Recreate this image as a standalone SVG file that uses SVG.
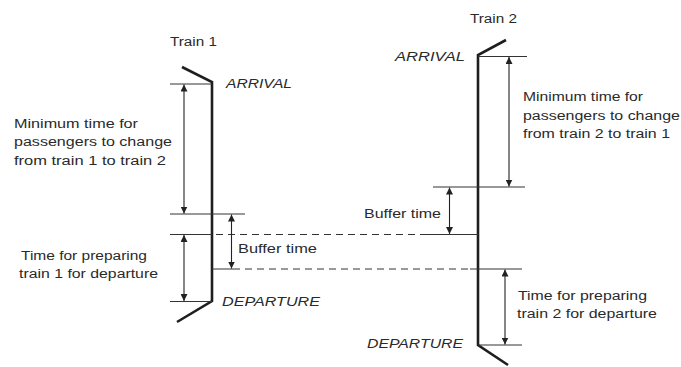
<svg xmlns="http://www.w3.org/2000/svg" width="681" height="367" viewBox="0 0 681 367">
<defs>
<marker id="ah" viewBox="0 0 10 10" refX="10" refY="5" markerWidth="7" markerHeight="7" markerUnits="userSpaceOnUse" orient="auto-start-reverse">
<path d="M0,0 L10,5 L0,10 Z" fill="#222"/>
</marker>
<style>
.t{font-family:"Liberation Sans",Arial,sans-serif;font-size:12.5px;fill:#2a2a2a}
.i{font-style:italic}
.train{fill:none;stroke:#1e1e1e;stroke-width:2.6;stroke-linejoin:miter}
.tick{stroke:#333;stroke-width:1;fill:none}
.dash{stroke:#333;stroke-width:1;stroke-dasharray:7 5;fill:none}
.arr{stroke:#222;stroke-width:1.1;fill:none;marker-start:url(#ah);marker-end:url(#ah)}
</style>
</defs>
<rect width="681" height="367" fill="#fff"/>
<g id="train1">
<polyline class="train" points="182,67 212,82 212,301 177,322"/>
<text class="t" x="170" y="45.5" textLength="47" lengthAdjust="spacingAndGlyphs">Train 1</text>
<text class="t i" x="226" y="87.7" textLength="66" lengthAdjust="spacingAndGlyphs">ARRIVAL</text>
<text class="t i" x="222" y="305.5" textLength="98" lengthAdjust="spacingAndGlyphs">DEPARTURE</text>
</g>
<g id="train2">
<polyline class="train" points="506,40 478,55 478,345 508,365"/>
<text class="t" x="470" y="22.5" textLength="47" lengthAdjust="spacingAndGlyphs">Train 2</text>
<text class="t i" x="395" y="61" textLength="70" lengthAdjust="spacingAndGlyphs">ARRIVAL</text>
<text class="t i" x="367" y="348" textLength="96" lengthAdjust="spacingAndGlyphs">DEPARTURE</text>
</g>
<g id="connectors">
<line class="tick" x1="170" y1="84" x2="212" y2="84"/>
<line class="tick" x1="170" y1="214" x2="245" y2="214"/>
<line class="tick" x1="170" y1="234.5" x2="212" y2="234.5"/>
<line class="dash" x1="216" y1="234.5" x2="420" y2="234.5"/>
<line class="tick" x1="420" y1="234.5" x2="478" y2="234.5"/>
<line class="tick" x1="170" y1="301.5" x2="212" y2="301.5"/>
<line class="tick" x1="212" y1="269" x2="240" y2="269"/>
<line class="dash" x1="245" y1="269" x2="470" y2="269"/>
<line class="tick" x1="470" y1="269" x2="522" y2="269"/>
<line class="tick" x1="478" y1="56.5" x2="527" y2="56.5"/>
<line class="tick" x1="433" y1="187" x2="525" y2="187"/>
<line class="tick" x1="478" y1="345" x2="522" y2="345"/>
<line class="arr" x1="184" y1="84.5" x2="184" y2="213.5"/>
<line class="arr" x1="184" y1="235" x2="184" y2="301"/>
<line class="arr" x1="231.5" y1="214.5" x2="231.5" y2="268.5"/>
<line class="arr" x1="509" y1="57" x2="509" y2="186.5"/>
<line class="arr" x1="449.5" y1="187.5" x2="449.5" y2="234"/>
<line class="arr" x1="505" y1="269.5" x2="505" y2="344.5"/>
</g>
<g id="labels">
<text class="t" x="14" y="127.5" textLength="124" lengthAdjust="spacingAndGlyphs">Minimum time for</text>
<text class="t" x="14" y="146" textLength="158" lengthAdjust="spacingAndGlyphs">passengers to change</text>
<text class="t" x="14" y="165" textLength="152" lengthAdjust="spacingAndGlyphs">from train 1 to train 2</text>
<text class="t" x="21" y="259.5" textLength="126" lengthAdjust="spacingAndGlyphs">Time for preparing</text>
<text class="t" x="19" y="278" textLength="139" lengthAdjust="spacingAndGlyphs">train 1 for departure</text>
<text class="t" x="238" y="253" textLength="79" lengthAdjust="spacingAndGlyphs">Buffer time</text>
<text class="t" x="523" y="101" textLength="120" lengthAdjust="spacingAndGlyphs">Minimum time for</text>
<text class="t" x="523" y="119.5" textLength="157" lengthAdjust="spacingAndGlyphs">passengers to change</text>
<text class="t" x="523" y="137.5" textLength="147" lengthAdjust="spacingAndGlyphs">from train 2 to train 1</text>
<text class="t" x="364" y="218" textLength="77" lengthAdjust="spacingAndGlyphs">Buffer time</text>
<text class="t" x="518" y="299.5" textLength="129" lengthAdjust="spacingAndGlyphs">Time for preparing</text>
<text class="t" x="517" y="318" textLength="140" lengthAdjust="spacingAndGlyphs">train 2 for departure</text>
</g>
</svg>
